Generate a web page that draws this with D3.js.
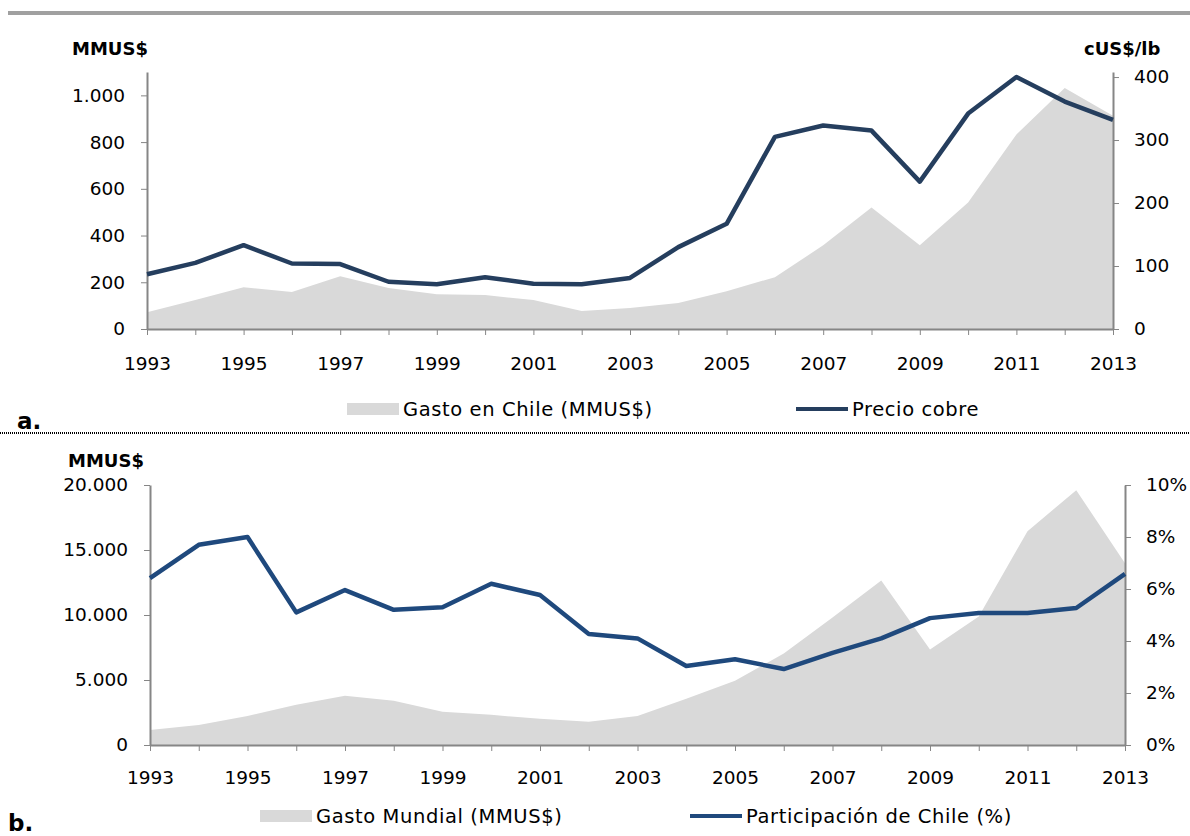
<!DOCTYPE html>
<html>
<head>
<meta charset="utf-8">
<script src="https://cdnjs.cloudflare.com/ajax/libs/d3/7.8.5/d3.min.js"></script>
<style>
  body { margin: 0; background: #fff; }
  svg text { font-family: "DejaVu Sans", sans-serif; fill: #000; }
  .axis path, .axis line { stroke: #868686; }
</style>
</head>
<body>
<script>
var years = d3.range(1993, 2014);
var yearLabels = [1993, 1995, 1997, 1999, 2001, 2003, 2005, 2007, 2009, 2011, 2013];

// panel a
var gastoChile = [72, 124, 179, 158, 226, 175, 149, 145, 124, 77, 90, 111, 162, 222, 358, 520, 358, 541, 832, 1032, 913];
var precioCobre = [87, 105, 133, 104, 103, 75, 71, 82, 72, 71, 81, 130, 167, 305, 323, 315, 234, 342, 400, 361, 332];
var ticksA = [0, 200, 400, 600, 800, 1000];
var ticksA2 = [0, 100, 200, 300, 400];

// panel b
var gastoMundial = [1160, 1540, 2240, 3090, 3780, 3400, 2550, 2320, 2010, 1780, 2240, 3550, 4940, 7030, 9800, 12660, 7340, 9880, 16450, 19600, 13980];
var partChile = [6.42, 7.7, 8.0, 5.1, 5.96, 5.2, 5.3, 6.2, 5.77, 4.27, 4.1, 3.04, 3.3, 2.92, 3.54, 4.1, 4.88, 5.08, 5.08, 5.27, 6.58];
var ticksB = [0, 5000, 10000, 15000, 20000];
var ticksB2 = [0, 2, 4, 6, 8, 10];

var W = 1190, H = 836;
var fmt = d3.format(",");
function es(v) { return fmt(v).replace(/,/g, "."); }

var svg = d3.select("body").append("svg")
    .attr("width", W)
    .attr("height", H);

// top grey rule
svg.append("rect").attr("x", 8).attr("y", 11).attr("width", W - 8).attr("height", 4).attr("fill", "#a0a0a0");

function panel(opt) {
    var x = d3.scaleLinear().domain([1993, 2013]).range([opt.x0, opt.x1]);
    var y = d3.scaleLinear().domain(opt.yDom).range([opt.y0, opt.yTop]);
    var y2 = d3.scaleLinear().domain(opt.y2Dom).range([opt.y0, opt.yTop]);

    var area = d3.area()
        .x((d, i) => x(years[i]))
        .y0(opt.y0)
        .y1(d => y(d));
    var line = d3.line()
        .x((d, i) => x(years[i]))
        .y(d => y2(d));

    svg.append("path").datum(opt.area)
        .attr("fill", "#d9d9d9")
        .attr("d", area);

    svg.append("g").attr("class", "axis")
        .attr("transform", "translate(" + opt.x0 + ",0)")
        .call(d3.axisLeft(y).tickValues(opt.ticks).tickSize(6).tickSizeOuter(0).tickPadding(16).tickFormat(opt.fmt))
        .call(g => g.selectAll("text").style("font-size", "18.5px").attr("fill", "#000"))
        .call(g => g.select(".domain").attr("stroke-width", 2));

    svg.append("g").attr("class", "axis")
        .attr("transform", "translate(" + opt.x1 + ",0)")
        .call(d3.axisRight(y2).tickValues(opt.ticks2).tickSize(6).tickSizeOuter(0).tickPadding(15).tickFormat(opt.fmt2))
        .call(g => g.selectAll("text").style("font-size", "18.5px").attr("fill", "#000"))
        .call(g => g.select(".domain").attr("stroke-width", 2));

    var xa = svg.append("g").attr("class", "axis")
        .attr("transform", "translate(0," + opt.y0 + ")")
        .call(d3.axisBottom(x).tickValues(years).tickSize(6).tickSizeOuter(0).tickPadding(opt.xPad)
            .tickFormat(d => yearLabels.indexOf(d) >= 0 ? d : ""));
    xa.selectAll("text").style("font-size", "18.5px").attr("fill", "#000");
    xa.select(".domain").attr("stroke-width", 2);

    svg.append("path").datum(opt.line)
        .attr("fill", "none")
        .attr("stroke", opt.lineColor)
        .attr("stroke-width", 4.5)
        .attr("stroke-linejoin", "round")
        .attr("d", line);

    // unit labels
    svg.append("text").attr("x", opt.unitX).attr("y", opt.unitY)
        .style("font-size", "18px").style("font-weight", "bold").text("MMUS$");
    if (opt.unit2) {
        svg.append("text").attr("x", opt.unit2X).attr("y", opt.unitY)
            .style("font-size", "18px").style("font-weight", "bold").text(opt.unit2);
    }

    // legend
    svg.append("rect").attr("x", opt.legX).attr("y", opt.legY - 6).attr("width", 52).attr("height", 12).attr("fill", "#d9d9d9");
    svg.append("text").attr("x", opt.legX + 56).attr("y", opt.legY + 7)
        .style("font-size", "19.5px").style("letter-spacing", "0.6px").text(opt.legA);
    svg.append("line").attr("x1", opt.legX2).attr("x2", opt.legX2 + 52).attr("y1", opt.legY).attr("y2", opt.legY)
        .attr("stroke", opt.lineColor).attr("stroke-width", 4);
    svg.append("text").attr("x", opt.legX2 + 56).attr("y", opt.legY + 7)
        .style("font-size", "19.5px").style("letter-spacing", "0.6px").text(opt.legB);

    svg.append("text").attr("x", opt.tagX).attr("y", opt.tagY).style("font-size", "23px").style("font-weight", "bold").text(opt.tag);
}

panel({
    x0: 147, x1: 1113, y0: 329, yTop: 72,
    yDom: [0, 1100], y2Dom: [0, 408],
    ticks: ticksA, ticks2: ticksA2,
    fmt: es, fmt2: d => d,
    area: gastoChile, line: precioCobre, lineColor: "#253e5e",
    unitX: 72, unitY: 55, unit2: "cUS$/lb", unit2X: 1084,
    xPad: 22,
    legX: 347, legX2: 796, legY: 409,
    legA: "Gasto en Chile (MMUS$)", legB: "Precio cobre",
    tag: "a.", tagX: 17, tagY: 429
});

// dotted separator
svg.append("line").attr("x1", 0).attr("x2", W).attr("y1", 433).attr("y2", 433)
    .attr("stroke", "#000").attr("stroke-width", 2).attr("stroke-dasharray", "1,1");

panel({
    x0: 150, x1: 1125, y0: 745, yTop: 485,
    yDom: [0, 20000], y2Dom: [0, 10],
    ticks: ticksB, ticks2: ticksB2,
    fmt: es, fmt2: d => d + "%",
    area: gastoMundial, line: partChile, lineColor: "#1f497d",
    unitX: 68, unitY: 467, unit2: null,
    xPad: 20,
    legX: 260, legX2: 690, legY: 816,
    legA: "Gasto Mundial (MMUS$)", legB: "Participación de Chile (%)",
    tag: "b.", tagX: 8, tagY: 831
});
</script>
</body>
</html>
